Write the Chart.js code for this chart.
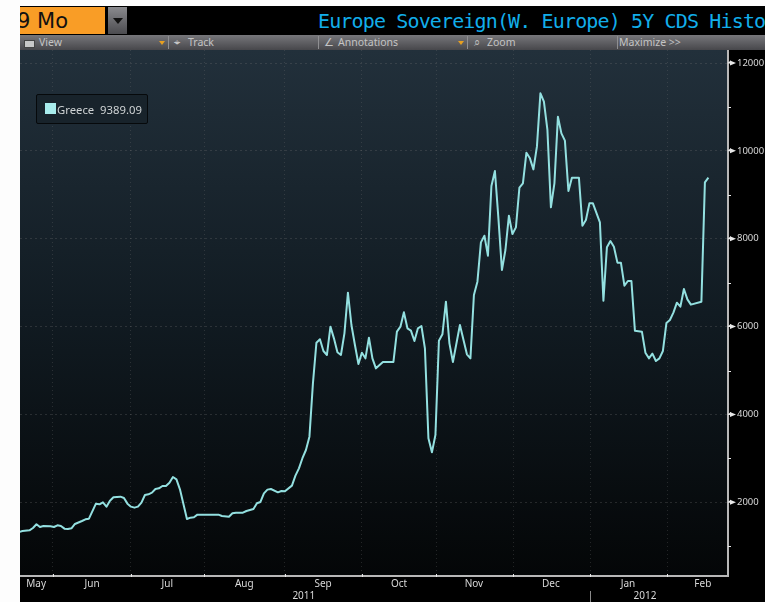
<!DOCTYPE html>
<html><head><meta charset="utf-8">
<script src="https://cdn.jsdelivr.net/npm/chart.js@4"></script>
<style>
html,body{margin:0;padding:0;width:765px;height:602px;overflow:hidden;background:#fdfdfd}
.abs{position:absolute;white-space:nowrap}
#frame{left:20px;top:6px;width:745px;height:596px;background:#000}
#orange{left:20px;top:7px;width:85px;height:27px;background:#f99d26;color:#111;font:21px/29px "DejaVu Sans";overflow:hidden}
#orange span{position:relative;left:-3px}
#drop{left:108px;top:7px;width:19px;height:27px;background:linear-gradient(#8a8a8e,#4c4c50)}
#drop:after{content:"";position:absolute;left:5px;top:11px;border-left:5px solid transparent;border-right:5px solid transparent;border-top:6px solid #111}
#title{left:318px;top:6px;width:447px;height:29px;overflow:hidden;color:#12aeea;font:20px/31px "DejaVu Sans Mono";letter-spacing:-0.86px}
#bar{left:20px;top:35px;width:745px;height:15px;background:linear-gradient(#77777b,#47474b)}
.tb{top:35px;height:15px;font:10.5px/15px "Noto Sans";color:#c4c4c4}
.sep{top:36px;width:1px;height:13px;background:#8f8f92}
.arr{top:41px;border-left:3px solid transparent;border-right:3px solid transparent;border-top:4px solid #e8a020}
#legend{left:36px;top:94px;width:110px;height:28px;background:#18232b;border:1px solid #06090b;border-radius:2px}
#swatch{left:8px;top:8px;width:11px;height:11px;background:#a8ecec}
#ltext{left:20px;top:0;font:11.3px/29px "Noto Sans";color:#cfd3d4}
#c{position:absolute;left:20px;top:50px}
#yrsep{left:590px;top:591px;width:1px;height:11px;background:#8a8a8a}
</style></head>
<body>
<div class="abs" id="frame"></div>
<div class="abs" id="orange"><span>9 Mo</span></div>
<div class="abs" id="drop"></div>
<div class="abs" id="title">Europe Sovereign(W. Europe) 5Y CDS Historical</div>
<div class="abs" id="bar"></div>
<div class="abs tb" style="left:39px">View</div>
<div class="abs tb" style="left:174px">⌖</div><div class="abs tb" style="left:188px">Track</div>
<div class="abs tb" style="left:324px">∠</div><div class="abs tb" style="left:338px">Annotations</div>
<div class="abs tb" style="left:474px">⌕</div><div class="abs tb" style="left:487px">Zoom</div>
<div class="abs tb" style="left:619px">Maximize &gt;&gt;</div>
<div class="abs" style="left:24px;top:40px;width:9px;height:6px;background:#c8c8c8;border:1px solid #444"></div>
<div class="abs arr" style="left:159px"></div><div class="abs arr" style="left:458px"></div>
<div class="abs sep" style="left:168px"></div><div class="abs sep" style="left:318px"></div>
<div class="abs sep" style="left:467px"></div><div class="abs sep" style="left:617px"></div>
<canvas id="c" width="745" height="552"></canvas>
<div class="abs" id="legend"><div class="abs" id="swatch"></div><div class="abs" id="ltext">Greece&nbsp; 9389.09</div></div>
<div class="abs" id="yrsep"></div>
<script>
const seriesName = 'Greece';
const sessions = [0,1,3,4,5,6,7,9,10,11,12,13,14,15,16,18,19,20,22,23,24,25,26,27,29,30,31,32,33,34,35,36,37,38,39,40,41,42,43,44,45,46,48,49,50,51,57,58,60,61,62,64,65,67,68,69,70,71,72,74,75,76,78,79,80,81,82,83,84,85,86,87,88,89,90,91,92,93,94,95,96,97,98,99,100,101,102,104,107,108,109,110,111,112,113,114,115,116,117,118,119,120,121,122,123,124,126,128,129,130,131,132,133,134,135,136,137,138,139,140,141,142,143,144,145,146,147,148,149,150,151,152,153,154,155,156,157,158,160,161,162,163,164,166,167,168,169,170,171,172,173,174,175,176,178,179,180,181,182,183,184,185,186,187,188,189,190,191,192,195,196,197];
const greece = [1324,1347,1362,1415,1499,1438,1461,1453,1438,1476,1461,1400,1392,1407,1506,1574,1612,1627,1969,1954,2000,1901,2037,2113,2128,2098,1969,1901,1878,1901,1992,2166,2181,2219,2303,2318,2371,2371,2447,2576,2523,2295,1620,1650,1658,1719,1719,1688,1673,1749,1764,1764,1802,1848,1977,2007,2204,2288,2303,2227,2257,2250,2379,2606,2773,3003,3190,3494,4708,5634,5710,5444,5353,5998,5732,5414,5353,5846,6772,6036,5581,5148,5406,5277,5748,5277,5049,5194,5194,5884,5998,6324,5960,5907,5672,5960,6013,5505,3456,3137,3532,5679,5824,6567,5619,5194,6036,5368,5277,6719,7022,7917,8069,7614,9200,9541,8464,7288,7743,8524,8107,8259,9162,9261,9959,9830,9579,10095,11309,11120,10475,8714,9261,10778,10399,10232,9086,9390,9390,8297,8426,8805,8805,8373,6590,7804,7948,7819,7455,7455,6931,7037,7037,5907,5884,5406,5277,5383,5216,5277,5444,6081,6149,6316,6544,6453,6855,6620,6499,6567,9283,9389];
const monthBoundaries = [9.7,32,52.9,76,98,119.2,141.2,163.2,185.3];
const monthLabels = ['May','Jun','Jul','Aug','Sep','Oct','Nov','Dec','Jan','Feb'];
const monthCentres = [4.9,20.9,42.4,64.4,86.9,108.6,130,152,174,195.4];
const yearLabels = ['2011','2012'];
const yearCentres = [81.4,178.9];
const yTicks = [1000,2000,3000,4000,5000,6000,7000,8000,9000,10000,11000,12000];

const TICK_FONT = {family:'"Noto Sans"', size:10};
const Y_FONT = {family:'"Noto Sans"', size:9.5};
const GRID = 'rgba(120,120,120,0.28)';
const setTicks = vals => s => { s.ticks = vals.map(v => ({value:v})); };
const noPad = s => { s.paddingTop = s.paddingBottom = s.paddingLeft = s.paddingRight = 0; };

const chromePlugin = {
  id:'chrome',
  beforeDraw(chart){
    const {ctx, chartArea:a} = chart;
    const g = ctx.createLinearGradient(0,a.top,0,a.bottom);
    g.addColorStop(0,'#22303b'); g.addColorStop(0.5,'#111b22'); g.addColorStop(1,'#040607');
    ctx.save(); ctx.fillStyle = g; ctx.fillRect(a.left,a.top,a.width,a.height); ctx.restore();
  },
  afterDraw(chart){
    const {ctx, chartArea:a, scales} = chart;
    ctx.save(); ctx.fillStyle = '#e8e8e8';
    scales.x.ticks.forEach(t => {
      ctx.fillRect(Math.round(scales.x.getPixelForValue(t.value)), a.bottom-2, 1, 3);
    });
    scales.y.ticks.forEach(t => {
      const p = scales.y.getPixelForValue(t.value);
      if (t.value % 2000 === 0) {
        ctx.beginPath(); ctx.moveTo(a.right,p-0.5); ctx.lineTo(a.right+3,p-2.5); ctx.lineTo(a.right+3,p+0.5);
        ctx.lineTo(a.right,p+0.5); ctx.closePath(); ctx.fill();
        ctx.beginPath(); ctx.moveTo(a.right+2,p-2.5); ctx.lineTo(a.right+8,p); ctx.lineTo(a.right+2,p+2.5); ctx.closePath(); ctx.fill();
      } else ctx.fillRect(a.right, Math.round(p), 3, 1);
    });
    ctx.restore();
  }
};

new Chart(document.getElementById('c'), {
  type:'line',
  data:{datasets:[{
    label:seriesName,
    data:sessions.map((s,i)=>({x:s,y:greece[i]})),
    borderColor:'#93e0e0', borderWidth:2, pointRadius:0, tension:0, borderJoinStyle:'round'
  }]},
  plugins:[chromePlugin],
  options:{
    responsive:false, animation:false,
    layout:{padding:0},
    plugins:{legend:{display:false},title:{display:false},tooltip:{enabled:false}},
    scales:{
      x:{type:'linear',position:'bottom',min:0.3,max:202.6,weight:1,
        afterBuildTicks:setTicks(monthBoundaries),
        afterFit:s=>{s.height=1;noPad(s);},
        ticks:{display:false,autoSkip:false},
        grid:{color:GRID,drawTicks:false},
        border:{color:'#b8b8b8',width:2,dash:[1,3]}},
      months:{type:'linear',position:'bottom',min:0.3,max:202.6,weight:2,
        afterBuildTicks:setTicks(monthCentres),
        afterFit:s=>{s.height=13;noPad(s);},
        ticks:{autoSkip:false,maxRotation:0,padding:1,color:'#d8d8d8',font:TICK_FONT,
          callback:(v,i)=>monthLabels[i]},
        grid:{display:false,drawTicks:false},border:{display:false}},
      years:{type:'linear',position:'bottom',min:0.3,max:202.6,weight:3,
        afterBuildTicks:setTicks(yearCentres),
        afterFit:s=>{s.height=12;noPad(s);},
        ticks:{autoSkip:false,maxRotation:0,padding:0,color:'#d8d8d8',font:TICK_FONT,
          callback:(v,i)=>yearLabels[i]},
        grid:{display:false,drawTicks:false},border:{display:false}},
      y:{type:'linear',position:'right',min:322,max:12296,
        afterBuildTicks:setTicks(yTicks),
        afterFit:s=>{s.width=37;noPad(s);},
        ticks:{autoSkip:false,padding:9,color:'#d8d8d8',font:Y_FONT,
          callback:v=>v%2000===0?String(v):''},
        grid:{color:c=>c.tick&&c.tick.value%2000===0?GRID:'transparent',drawTicks:false},
        border:{color:'#b8b8b8',width:2,dash:[2,3]}}
    }
  }
});
</script>
</body></html>
